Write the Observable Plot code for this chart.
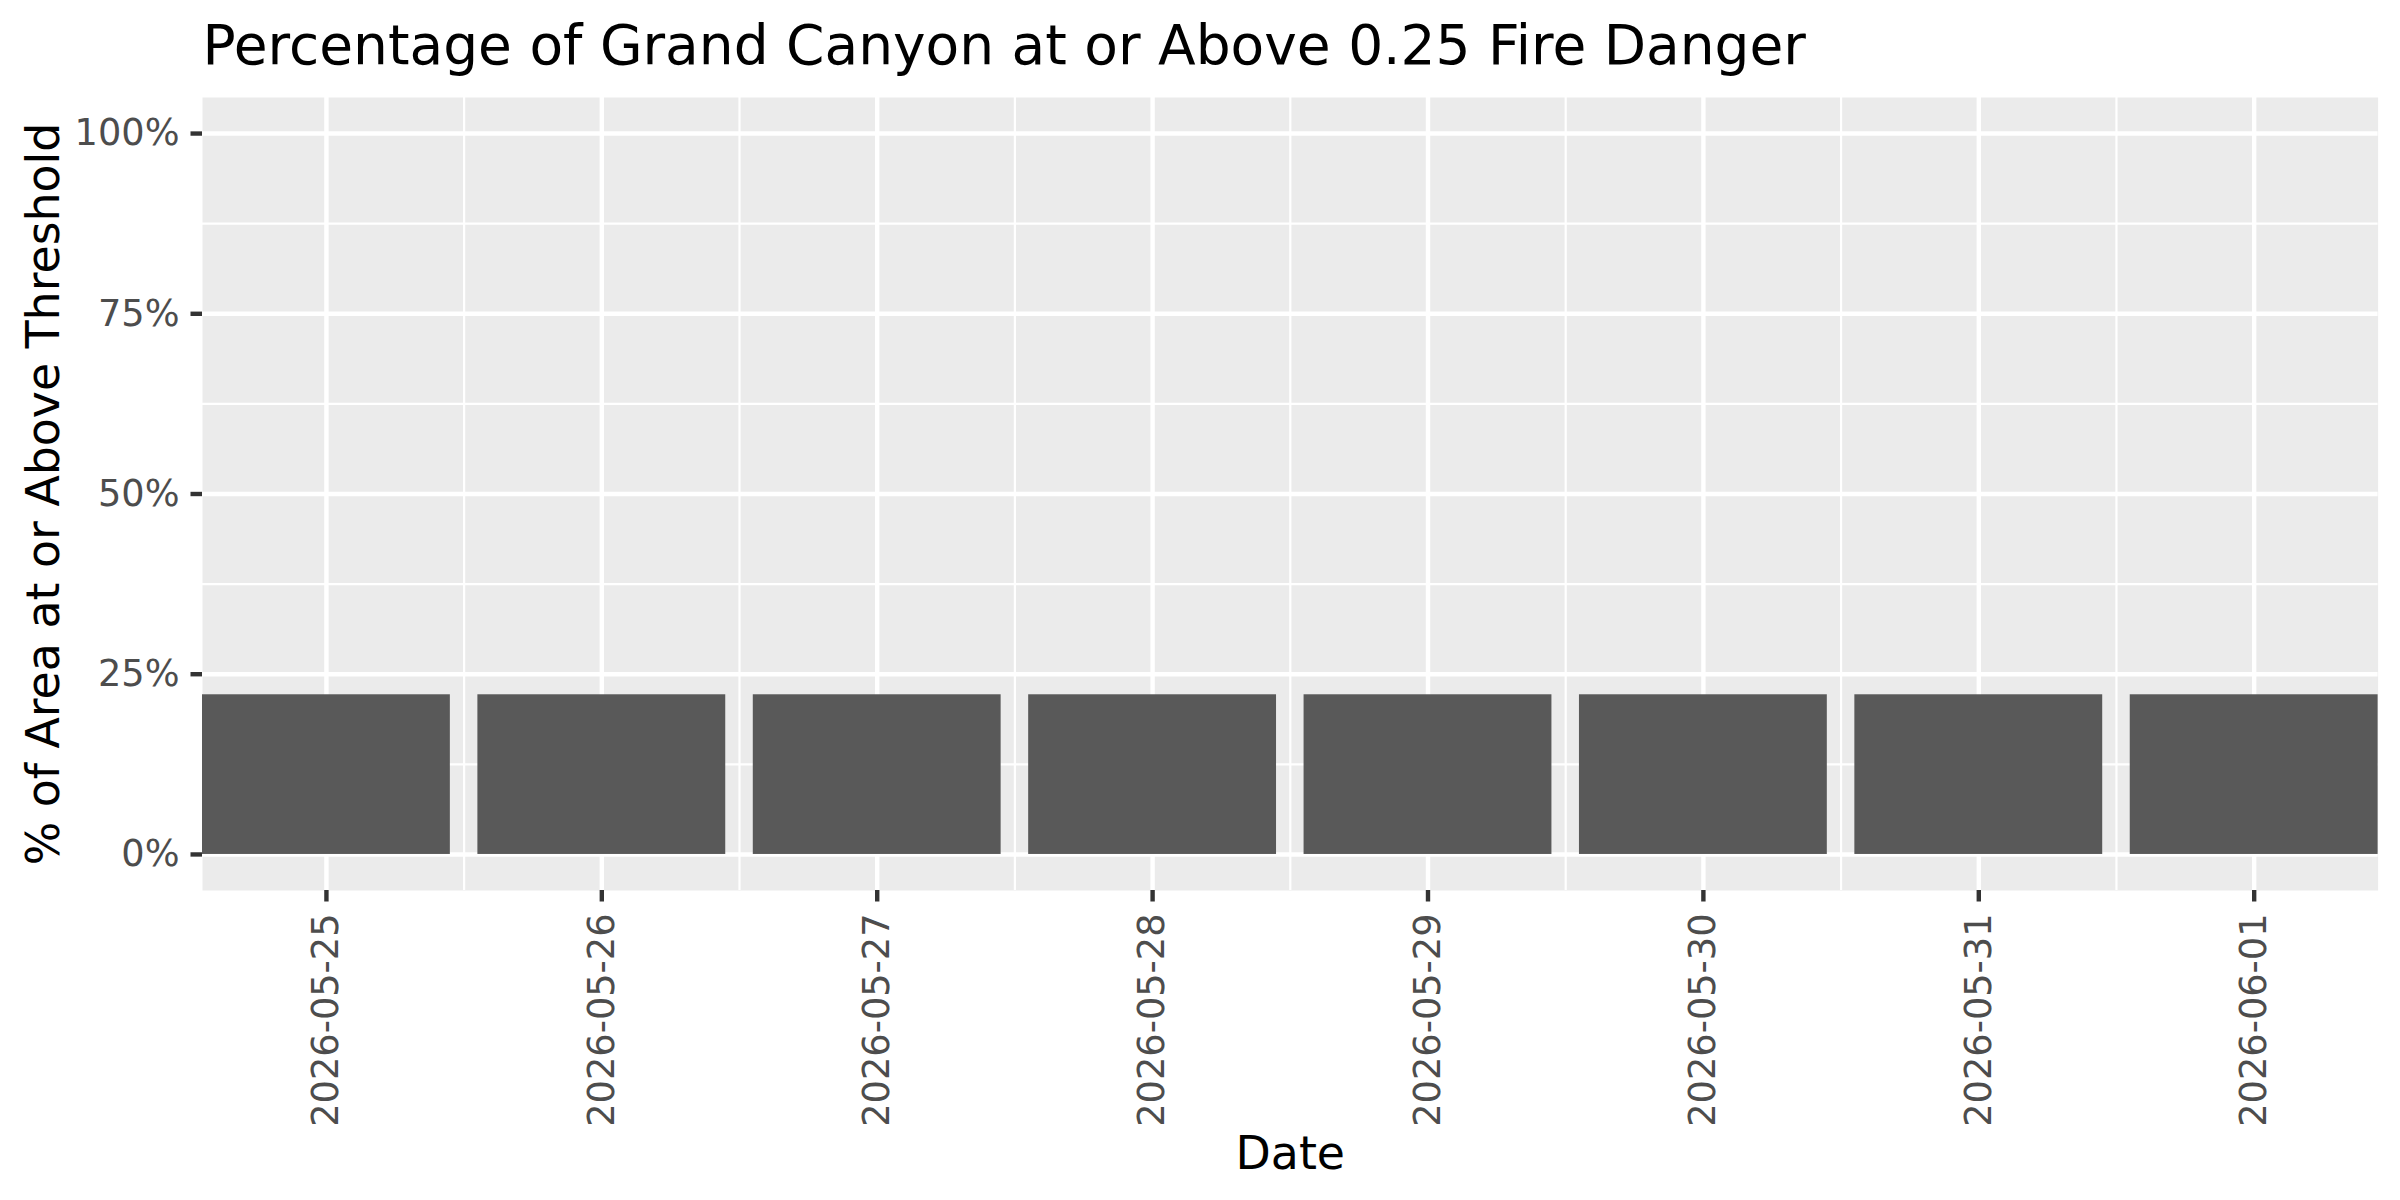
<!DOCTYPE html>
<html><head><meta charset="utf-8">
<script src="https://cdn.jsdelivr.net/npm/d3@7"></script>
<script src="https://cdn.jsdelivr.net/npm/@observablehq/plot@0.6"></script>
<style>body{margin:0;background:#fff}</style>
</head><body><div id="chart"></div>
<script>
// ---- data ----
const dates = ["2026-05-25","2026-05-26","2026-05-27","2026-05-28","2026-05-29","2026-05-30","2026-05-31","2026-06-01"];
const pctAbove = [0.2215,0.2215,0.2215,0.2215,0.2215,0.2215,0.2215,0.2215];
const yTicks = [0, 0.25, 0.5, 0.75, 1];
const yMinorTicks = [0.125, 0.375, 0.625, 0.875];
const titleText = "Percentage of Grand Canyon at or Above 0.25 Fire Danger";
const xTitle = "Date";
const yTitle = "% of Area at or Above Threshold";

// ---- derived ----
const DAY = 864e5;
const parse = d3.utcParse("%Y-%m-%d");
const dateObjs = dates.map(parse);
const rows = dates.map((d, i) => ({
  date: dateObjs[i],
  x1: new Date(+dateObjs[i] - 0.45 * DAY),
  x2: new Date(+dateObjs[i] + 0.45 * DAY),
  value: pctAbove[i]
}));
const minorX = dateObjs.slice(1).map(d => new Date(+d - 0.5 * DAY));
const xDomain = [rows[0].x1, rows[rows.length - 1].x2];

const W = 2400, H = 1200;
const mL = 202, mR = 22.4, mT = 97, mB = 310;
const tickFont = 36.7, titleFont = 45.8;

const chart = Plot.plot({
  width: W, height: H,
  marginLeft: mL, marginRight: mR, marginTop: mT, marginBottom: mB,
  style: {fontFamily: "DejaVu Sans", background: "white", overflow: "visible"},
  x: {type: "utc", domain: xDomain, axis: null},
  y: {domain: [-0.05, 1.05], axis: null},
  marks: [
    Plot.frame({fill: "#EBEBEB", stroke: null}),
    Plot.ruleY(yMinorTicks, {stroke: "white", strokeWidth: 2.2}),
    Plot.ruleX(minorX, {stroke: "white", strokeWidth: 2.2}),
    Plot.ruleY(yTicks, {stroke: "white", strokeWidth: 4.4}),
    Plot.ruleX(dateObjs, {stroke: "white", strokeWidth: 4.4}),
    Plot.rectY(rows, {x1: "x1", x2: "x2", y1: 0, y2: "value", fill: "#595959"}),
    // y axis ticks + labels
    Plot.axisY(yTicks, {tickSize: 11.5, tickFormat: () => "", color: "#333333", strokeWidth: 4.4, label: null}),
    Plot.axisY(yTicks, {tickSize: 0, tickPadding: 23, tickFormat: d3.format(".0%"), color: "#4D4D4D", fontSize: tickFont, label: null}),
    // x axis ticks + labels
    Plot.axisX(dateObjs, {tickSize: 11.5, tickFormat: () => "", color: "#333333", strokeWidth: 4.4, label: null}),
    Plot.text(dates, {x: d => parse(d), text: d => d, frameAnchor: "bottom", rotate: -90,
      textAnchor: "end", lineAnchor: "middle", dy: 23, fill: "#4D4D4D", fontSize: tickFont}),
    // axis titles
    Plot.text([xTitle], {frameAnchor: "bottom", textAnchor: "middle", lineAnchor: "bottom", dy: 278, fill: "black", fontSize: titleFont}),
    Plot.text([yTitle], {frameAnchor: "left", rotate: -90, textAnchor: "middle", lineAnchor: "bottom", dx: -144, fill: "black", fontSize: titleFont}),
    // plot title
    Plot.text([titleText], {frameAnchor: "top-left", textAnchor: "start", lineAnchor: "bottom", dy: -34, fill: "black", fontSize: 55})
  ]
});
document.getElementById("chart").appendChild(chart);
</script>
</body></html>
